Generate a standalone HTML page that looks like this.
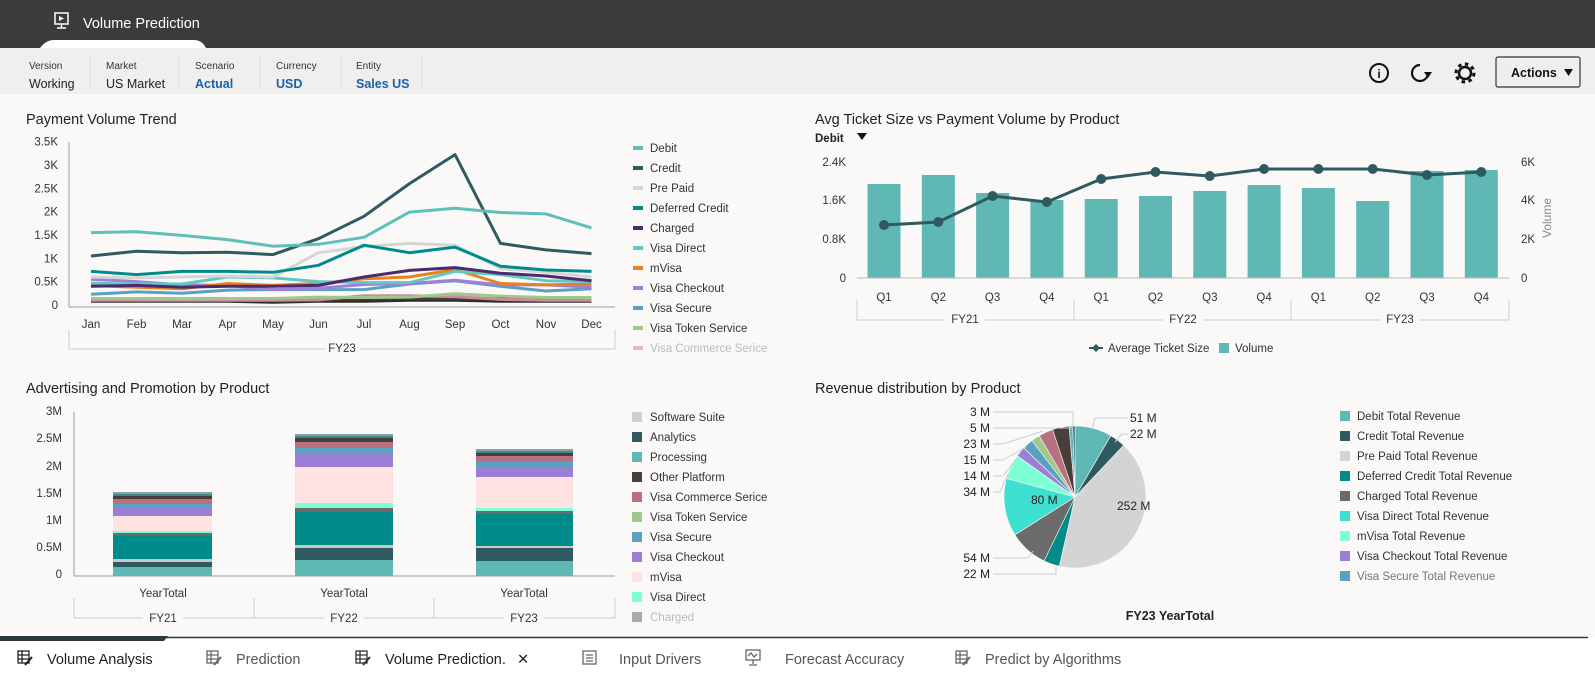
<!DOCTYPE html>
<html><head><meta charset="utf-8">
<style>
html,body{margin:0;padding:0;width:1595px;height:684px;overflow:hidden;background:#faf9f8;}
svg{display:block;font-family:"Liberation Sans",Arial,sans-serif;}
</style></head>
<body>
<svg id="s" width="1595" height="684" viewBox="0 0 1595 684" xmlns="http://www.w3.org/2000/svg">
<rect x="0" y="0" width="1595" height="684" fill="#faf9f8"/>
<rect x="0" y="0" width="1595" height="48" fill="#3b3b3b"/>
<path d="M40 48 Q46 40 54 40 L194 40 Q202 40 206 48 Z" fill="#ffffff"/>
<rect x="55" y="13" width="13" height="11" fill="none" stroke="#fff" stroke-width="1.5"/>
<path d="M59 16 L64 18.5 L59 21 Z" fill="#fff"/>
<line x1="61.5" y1="24" x2="61.5" y2="28" stroke="#fff" stroke-width="1.5"/>
<line x1="57" y1="28" x2="66" y2="28" stroke="#fff" stroke-width="1.5"/>
<text x="83" y="28" fill="#fff" font-size="14.5">Volume Prediction</text>
<rect x="0" y="48" width="1595" height="46" fill="#f0efee"/>
<g font-size="10" fill="#333">
<text x="29" y="69">Version</text><text x="106" y="69">Market</text><text x="195" y="69">Scenario</text><text x="276" y="69">Currency</text><text x="356" y="69">Entity</text>
</g>
<g font-size="12.5">
<text x="29" y="88" fill="#222">Working</text><text x="106" y="88" fill="#222">US Market</text>
<text x="195" y="88" fill="#1a63a8" font-weight="bold">Actual</text><text x="276" y="88" fill="#1a63a8" font-weight="bold">USD</text><text x="356" y="88" fill="#1a63a8" font-weight="bold">Sales US</text>
</g>
<g stroke="#dcdcdc"><line x1="90" y1="56" x2="90" y2="90"/><line x1="179" y1="56" x2="179" y2="90"/><line x1="260" y1="56" x2="260" y2="90"/><line x1="341" y1="56" x2="341" y2="90"/><line x1="422" y1="56" x2="422" y2="90"/></g>
<circle cx="1379" cy="73" r="9" fill="none" stroke="#111" stroke-width="2"/>
<text x="1379" y="78" font-size="12" text-anchor="middle" font-weight="bold" fill="#111">i</text>
<path d="M1428 73 A8 8 0 1 1 1420 65" fill="none" stroke="#111" stroke-width="2.2"/>
<path d="M1424 72 L1432 72 L1428 78 Z" fill="#111"/>
<circle cx="1465" cy="73" r="6" fill="none" stroke="#111" stroke-width="2.5"/>
<circle cx="1465" cy="73" r="9" fill="none" stroke="#111" stroke-width="3" stroke-dasharray="3.5 3.5"/>
<rect x="1496" y="57" width="84" height="30" rx="2" fill="#eceef0" stroke="#333" stroke-width="1.2"/>
<text x="1511" y="77" font-size="12.5" font-weight="bold" fill="#111">Actions</text>
<path d="M1564 69 L1573 69 L1568.5 76 Z" fill="#111"/>

<g id="c1"></g><g id="c2"></g><g id="c3"></g><g id="c4"></g>

<rect x="0" y="638" width="1595" height="46" fill="#ffffff"/>
<line x1="0" y1="637.5" x2="1588" y2="637.5" stroke="#2d3a3d" stroke-width="1.5"/>
<path d="M0 636 L168 636 L164 641 L0 641 Z" fill="#2d3a3d"/>
<g font-size="14.5">
<text x="47" y="664" fill="#1f1f1f">Volume Analysis</text>
<text x="236" y="664" fill="#555">Prediction</text>
<text x="385" y="664" fill="#1f1f1f">Volume Prediction.</text>
<text x="517" y="664" fill="#1f1f1f">✕</text>
<text x="619" y="664" fill="#555">Input Drivers</text>
<text x="785" y="664" fill="#555">Forecast Accuracy</text>
<text x="985" y="664" fill="#555">Predict by Algorithms</text>
</g>
<g id="icons" fill="none" stroke-width="1.3"></g>
</svg>
<script>
var NS="http://www.w3.org/2000/svg";
function el(p,t,a,txt){var e=document.createElementNS(NS,t);for(var k in a)e.setAttribute(k,a[k]);if(txt!=null)e.textContent=txt;p.appendChild(e);return e;}
function T(p,x,y,s,o){o=o||{};var a={x:x,y:y,"font-size":o.fs||11.5,fill:o.fill||"#333"};if(o.a)a["text-anchor"]=o.a;if(o.w)a["font-weight"]=o.w;if(o.op)a.opacity=o.op;return el(p,"text",a,s);}
var ic=document.getElementById("icons");
[[18,"#222"],[207,"#666"],[356,"#333"],[956,"#666"]].forEach(function(d){var x=d[0],c=d[1];
 el(ic,"rect",{x:x,y:651,width:11,height:12,stroke:c});
 el(ic,"path",{d:"M"+x+" 655h11M"+x+" 659h11M"+(x+4)+" 651v12",stroke:c});
 el(ic,"path",{d:"M"+(x+7)+" 665 L"+(x+14)+" 657",stroke:c,"stroke-width":2});});
el(ic,"rect",{x:583,y:651,width:13,height:13,stroke:"#666"});
el(ic,"path",{d:"M586 655h7M586 658h7M586 661h7",stroke:"#666"});
el(ic,"rect",{x:746,y:650,width:14,height:10,stroke:"#666"});
el(ic,"path",{d:"M748 656 l3 -3 l3 4 l3 -3 M753 660v4 M749 665h8",stroke:"#666"});

var c1=document.getElementById("c1");
T(c1,26,124,"Payment Volume Trend",{fs:14.5,fill:"#222"});
var Y1=function(v){return 305-46.7*v;};
["0","0.5K","1K","1.5K","2K","2.5K","3K","3.5K"].forEach(function(s,i){T(c1,58,Y1(i*0.5)+4,s,{a:"end"});});
el(c1,"line",{x1:69,y1:142,x2:69,y2:307,stroke:"#9a9a9a"});
el(c1,"line",{x1:69,y1:307,x2:615,y2:307,stroke:"#9a9a9a"});
var mon=["Jan","Feb","Mar","Apr","May","Jun","Jul","Aug","Sep","Oct","Nov","Dec"];
mon.forEach(function(m,i){T(c1,91+i*45.5,328,m,{a:"middle"});});
el(c1,"path",{d:"M69 330 V349 H325 M360 349 H615 V330",stroke:"#c9c9e0",fill:"none"});
T(c1,342,352,"FY23",{a:"middle"});
var S1=[
["#2c2c2c",[0.08,0.08,0.08,0.08,0.06,0.08,0.08,0.1,0.1,0.08,0.08,0.08]],
["#4a3e3a",[0.13,0.14,0.13,0.14,0.12,0.12,0.13,0.14,0.14,0.13,0.12,0.12]],
["#c98a9a",[0.1,0.1,0.1,0.1,0.1,0.11,0.2,0.2,0.18,0.12,0.1,0.1]],
["#9ec98a",[0.14,0.14,0.13,0.14,0.14,0.17,0.16,0.17,0.24,0.19,0.16,0.16]],
["#5aa0c5",[0.23,0.28,0.25,0.32,0.33,0.33,0.33,0.45,0.52,0.4,0.3,0.35]],
["#a07fd8",[0.55,0.5,0.43,0.42,0.33,0.36,0.44,0.46,0.53,0.43,0.43,0.38]],
["#e8821e",[0.42,0.38,0.35,0.46,0.42,0.46,0.56,0.6,0.76,0.46,0.43,0.45]],
["#5fc9c0",[0.47,0.45,0.45,0.6,0.58,0.5,0.48,0.48,0.72,0.65,0.52,0.5]],
["#4b2a6e",[0.4,0.42,0.38,0.4,0.4,0.42,0.6,0.74,0.8,0.68,0.62,0.52]],
["#d6d6d6",[0.6,0.58,0.6,0.62,0.6,1.12,1.25,1.32,1.28,0.78,0.7,0.6]],
["#008b8b",[0.72,0.65,0.72,0.72,0.7,0.85,1.28,1.12,1.24,0.83,0.75,0.72]],
["#2f5a5f",[1.05,1.15,1.12,1.13,1.08,1.42,1.9,2.6,3.22,1.32,1.18,1.1]],
["#5fbfb9",[1.55,1.57,1.49,1.4,1.26,1.3,1.45,1.99,2.07,1.98,1.95,1.65]]];
S1.forEach(function(s){var d=s[1].map(function(v,i){return (i?"L":"M")+(91+i*45.5)+" "+Y1(v).toFixed(1);}).join(" ");
 el(c1,"path",{d:d,fill:"none",stroke:s[0],"stroke-width":3,"stroke-linejoin":"round"});});
var L1=[["Debit","#5fbfb9"],["Credit","#2f5a5f"],["Pre Paid","#d6d6d6"],["Deferred Credit","#008b8b"],["Charged","#4b2a6e"],["Visa Direct","#5fc9c0"],["mVisa","#e8821e"],["Visa Checkout","#a07fd8"],["Visa Secure","#5aa0c5"],["Visa Token Service","#9ec98a"],["Visa Commerce Serice","#e3b8c2"]];
L1.forEach(function(l,i){var y=148+i*20;el(c1,"rect",{x:633,y:y-2,width:10,height:4,fill:l[1]});T(c1,650,y+4,l[0],{fill:i==10?"#bbb":"#333"});});

var c2=document.getElementById("c2");
T(c2,815,124,"Avg Ticket Size vs Payment Volume by Product",{fs:14.5,fill:"#222"});
T(c2,815,142,"Debit",{fs:11.5,w:"bold",fill:"#222"});
el(c2,"path",{d:"M857 133 L867 133 L862 140 Z",fill:"#111"});
[["0",278],["0.8K",239],["1.6K",200],["2.4K",162]].forEach(function(a){T(c2,846,a[1]+4,a[0],{a:"end"});});
[["0",278],["2K",239],["4K",200],["6K",162]].forEach(function(a){T(c2,1521,a[1]+4,a[0]);});
el(c2,"text",{x:0,y:0,"font-size":12,fill:"#888","text-anchor":"middle",transform:"translate(1551,218) rotate(-90)"},"Volume");
var bt=[184,175,193,200,199,196,191,185,188,201,171,170];
var lt=[225,222,196,202,179,172,176,169,169,169,175,172];
bt.forEach(function(t,i){var cx=884+i*54.3;el(c2,"rect",{x:cx-16.5,y:t,width:33,height:278-t,fill:"#5fb8b4"});});
el(c2,"line",{x1:857,y1:278,x2:1509,y2:278,stroke:"#bbb"});
el(c2,"path",{d:lt.map(function(y,i){return (i?"L":"M")+(884+i*54.3).toFixed(1)+" "+y;}).join(" "),fill:"none",stroke:"#2f5a5f","stroke-width":3});
lt.forEach(function(y,i){el(c2,"circle",{cx:884+i*54.3,cy:y,r:5,fill:"#2f5a5f"});T(c2,884+i*54.3,301,"Q"+(i%4+1),{a:"middle"});});
el(c2,"path",{d:"M857 300V320H945 M985 320H1163 M1203 320H1380 M1420 320H1509V300 M1074 300V320 M1291 300V320",fill:"none",stroke:"#c9c9e0"});
T(c2,965,323,"FY21",{a:"middle"});T(c2,1183,323,"FY22",{a:"middle"});T(c2,1400,323,"FY23",{a:"middle"});
el(c2,"path",{d:"M1096 344 L1100 348 L1096 352 L1092 348 Z",fill:"#2f5a5f"});
el(c2,"line",{x1:1089,y1:348,x2:1103,y2:348,stroke:"#2f5a5f","stroke-width":2});
T(c2,1108,352,"Average Ticket Size");
el(c2,"rect",{x:1219,y:343,width:10,height:10,fill:"#5fb8b4"});T(c2,1235,352,"Volume");

var c3=document.getElementById("c3");
T(c3,26,393,"Advertising and Promotion by Product",{fs:14.5,fill:"#222"});
[["0",574],["0.5M",547],["1M",520],["1.5M",493],["2M",466],["2.5M",438],["3M",411]].forEach(function(a){T(c3,62,a[1]+4,a[0],{a:"end"});});
el(c3,"line",{x1:74,y1:412,x2:74,y2:576,stroke:"#9a9a9a"});
var cols=["#5fb8b4","#2f5a5f","#c8c8c8","#008b8b","#6b6b6b","#7fffd4","#ffe3e3","#9b7fd4","#5aa0c0","#b87080","#4a3e3a","#3d8a8a","#8aa0a8"];
var B=[[113,212,[567,562,559,536,533,531,516,507,504,499,496,494,492]],[295,393,[560,548,545,512,508,503,467,453,448,442,438,436,434]],[476,573,[561,548,546,514,511,508,477,468,462,456,453,451,449]]];
B.forEach(function(b){var prev=576;b[2].forEach(function(t,i){el(c3,"rect",{x:b[0],y:t,width:b[1]-b[0],height:prev-t,fill:cols[i]});prev=t;});});
el(c3,"line",{x1:74,y1:576,x2:615,y2:576,stroke:"#9a9a9a"});
[163,344,524].forEach(function(x,i){T(c3,x,597,"YearTotal",{a:"middle"});T(c3,x,622,["FY21","FY22","FY23"][i],{a:"middle"});});
el(c3,"path",{d:"M74 598V618H143 M183 618H324 M364 618H504 M544 618H615V598 M254 598V618 M434 598V618",fill:"none",stroke:"#c9c9e0"});
var L3=[["Software Suite","#d0d0d0"],["Analytics","#2f5a5f"],["Processing","#5fb8b4"],["Other Platform","#4a3e3a"],["Visa Commerce Serice","#b87080"],["Visa Token Service","#9ec98a"],["Visa Secure","#5aa0c0"],["Visa Checkout","#9b7fd4"],["mVisa","#ffe3e3"],["Visa Direct","#7fffd4"],["Charged","#aaaaaa"]];
L3.forEach(function(l,i){var y=417+i*20;el(c3,"rect",{x:632,y:y-5,width:10,height:10,fill:l[1]});T(c3,650,y+4,l[0],{fill:i==10?"#bbb":"#333"});});

var c4=document.getElementById("c4");
T(c4,815,393,"Revenue distribution by Product",{fs:14.5,fill:"#222"});
var P=[[51,"#5fb8b4"],[22,"#2f5a5f"],[252,"#d4d4d4"],[22,"#008b8b"],[54,"#6b6b6b"],[80,"#40e0d0"],[34,"#7fffd4"],[14,"#9b7fd4"],[15,"#5aa0c0"],[12,"#9ec98a"],[20,"#b87080"],[23,"#4a3e3a"],[5,"#5fb8b4"],[3,"#2f5a5f"]];
var tot=P.reduce(function(a,b){return a+b[0];},0),cx=1075,cy=497,r=71,a0=0;
function pt(a,rr){return [cx+rr*Math.sin(a),cy-rr*Math.cos(a)];}
P.forEach(function(p){var a1=a0+p[0]/tot*2*Math.PI;var s=pt(a0,r),e=pt(a1,r);
 el(c4,"path",{d:"M"+cx+" "+cy+" L"+s[0].toFixed(1)+" "+s[1].toFixed(1)+" A"+r+" "+r+" 0 "+(a1-a0>Math.PI?1:0)+" 1 "+e[0].toFixed(1)+" "+e[1].toFixed(1)+" Z",fill:p[1],stroke:"#faf9f8","stroke-width":0.6});a0=a1;});
T(c4,1117,510,"252 M",{fs:12,fill:"#222"});T(c4,1031,504,"80 M",{fs:12,fill:"#222"});
var lc="#c6cbe0";
[["3 M",412,"M993 412 H1073 V427"],["5 M",428,"M993 428 H1070 L1073 427"],["23 M",444,"M993 444 H1003 L1043 431"],["15 M",460,"M993 460 H1003 L1026 447"],["14 M",476,"M993 476 H1003 L1017 458"],["34 M",492,"M993 492 H1000 L1008 474"],["54 M",558,"M993 558 H1028 L1033 551"],["22 M",574,"M993 574 H1056 V566"]].forEach(function(a){T(c4,990,a[1]+4,a[0],{a:"end",fill:"#222",fs:12});el(c4,"path",{d:a[2],fill:"none",stroke:lc});});
[["51 M",418,"M1128 418 H1095 L1092 429"],["22 M",434,"M1128 434 H1122 L1115 442"]].forEach(function(a){T(c4,1130,a[1]+4,a[0],{fill:"#222",fs:12});el(c4,"path",{d:a[2],fill:"none",stroke:lc});});
T(c4,1170,620,"FY23 YearTotal",{a:"middle",w:"bold",fs:12.5,fill:"#222"});
var L4=[["Debit Total Revenue","#5fb8b4"],["Credit Total Revenue","#2f5a5f"],["Pre Paid Total Revenue","#d4d4d4"],["Deferred Credit Total Revenue","#008b8b"],["Charged Total Revenue","#6b6b6b"],["Visa Direct Total Revenue","#40e0d0"],["mVisa Total Revenue","#7fffd4"],["Visa Checkout Total Revenue","#9b7fd4"],["Visa Secure Total Revenue","#5aa0c0"]];
L4.forEach(function(l,i){var y=416+i*20;el(c4,"rect",{x:1340,y:y-5,width:10,height:10,fill:l[1]});T(c4,1357,y+4,l[0],{fill:i==8?"#777":"#333"});});
</script>
</body></html>
